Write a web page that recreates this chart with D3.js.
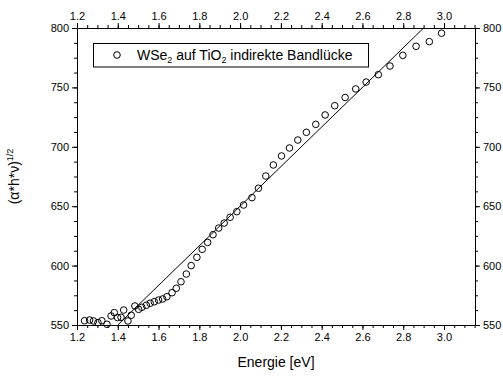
<!DOCTYPE html>
<html>
<head>
<meta charset="utf-8">
<script src="https://cdn.jsdelivr.net/npm/d3@7"></script>
<style>
  html, body { margin: 0; padding: 0; background: #fff; }
  svg { display: block; font-family: "Liberation Sans", Arial, sans-serif; }
</style>
</head>
<body>
<svg id="chart" width="503" height="378"></svg>
<script>
// Measured photon energy (eV) and (alpha*h*nu)^(1/2)
const energy = [
  1.237, 1.262, 1.281, 1.303, 1.322, 1.347, 1.367, 1.383, 1.399, 1.416,
  1.429, 1.450, 1.466, 1.484, 1.502, 1.518, 1.540, 1.559, 1.579, 1.600,
  1.620, 1.641, 1.666, 1.687, 1.710, 1.736, 1.760, 1.788, 1.814, 1.841,
  1.867, 1.895, 1.922, 1.951, 1.984, 2.017, 2.058, 2.090, 2.126, 2.163,
  2.203, 2.242, 2.283, 2.325, 2.371, 2.417, 2.464, 2.515, 2.567, 2.618,
  2.678, 2.735, 2.798, 2.863, 2.928, 2.988
];
const sqrtAbs = [
  553.6, 554.2, 553.4, 552.0, 553.6, 550.6, 557.6, 560.4, 556.2, 556.5,
  562.6, 553.4, 558.2, 566.0, 563.2, 564.9, 566.6, 568.3, 569.6, 571.0,
  571.9, 573.8, 577.2, 580.9, 586.4, 592.9, 600.0, 607.0, 613.7, 619.5,
  626.0, 631.6, 635.8, 640.7, 645.4, 651.0, 657.2, 665.1, 675.4, 684.7,
  692.3, 699.0, 705.7, 712.2, 718.9, 726.8, 734.6, 741.5, 748.7, 754.5,
  760.7, 768.0, 777.0, 784.6, 788.5, 795.6
];
// Linear fit of the absorption edge (end points)
const fitX = [1.40, 2.90];
const fitY = [550, 800];

const xTicks = [1.2, 1.4, 1.6, 1.8, 2.0, 2.2, 2.4, 2.6, 2.8, 3.0];
const yTicks = [550, 600, 650, 700, 750, 800];
const xMinor = d3.range(1.2, 3.151, 0.05).map(v => +v.toFixed(2));
const yMinor = d3.range(550, 800.01, 12.5);

const legendLabel = ["WSe", "2", " auf TiO", "2", " indirekte Bandlücke"];
const xTitle = "Energie [eV]";

const svg = d3.select("#chart");
const m = { left: 77, right: 475, top: 28, bottom: 325 };

const x = d3.scaleLinear().domain([1.2, 3.152]).range([m.left, m.right]);
const y = d3.scaleLinear().domain([550, 800]).range([m.bottom, m.top]);

const fmtX = d3.format(".1f");
const tickFont = 11;

function axisStyle(g) {
  g.select(".domain").attr("stroke", "#000").attr("stroke-width", 1);
  g.selectAll(".tick line").attr("stroke", "#000");
  g.selectAll(".tick text").attr("fill", "#000").style("font-size", tickFont + "px")
    .style("font-family", "'Liberation Sans', Arial, sans-serif");
}

// minor ticks (no labels)
function minor(axisFn, scale, vals, tr) {
  svg.append("g").attr("transform", tr)
    .call(axisFn(scale).tickValues(vals).tickSize(3).tickFormat(""))
    .call(g => { g.select(".domain").remove(); g.selectAll(".tick line").attr("stroke", "#000"); });
}
minor(d3.axisBottom, x, xMinor, `translate(0,${m.bottom})`);
minor(d3.axisTop, x, xMinor, `translate(0,${m.top})`);
minor(d3.axisLeft, y, yMinor, `translate(${m.left},0)`);
minor(d3.axisRight, y, yMinor, `translate(${m.right},0)`);

svg.append("g").attr("transform", `translate(0,${m.bottom})`)
  .call(d3.axisBottom(x).tickValues(xTicks).tickSize(5).tickPadding(3).tickFormat(fmtX).tickSizeOuter(0))
  .call(axisStyle);
svg.append("g").attr("transform", `translate(0,${m.top})`)
  .call(d3.axisTop(x).tickValues(xTicks).tickSize(5).tickPadding(3).tickFormat(fmtX).tickSizeOuter(0))
  .call(axisStyle);
svg.append("g").attr("transform", `translate(${m.left},0)`)
  .call(d3.axisLeft(y).tickValues(yTicks).tickSize(5).tickPadding(3).tickSizeOuter(0))
  .call(axisStyle);
svg.append("g").attr("transform", `translate(${m.right},0)`)
  .call(d3.axisRight(y).tickValues(yTicks).tickSize(5).tickPadding(3).tickSizeOuter(0))
  .call(axisStyle);

// fit line
svg.append("line")
  .attr("x1", x(fitX[0])).attr("y1", y(fitY[0]))
  .attr("x2", x(fitX[1])).attr("y2", y(fitY[1]))
  .attr("stroke", "#000").attr("stroke-width", 1);

// data points
svg.append("g").selectAll("circle")
  .data(energy.map((e, i) => [e, sqrtAbs[i]]))
  .join("circle")
  .attr("cx", d => x(d[0])).attr("cy", d => y(d[1]))
  .attr("r", 3.3)
  .attr("fill", "none").attr("stroke", "#000").attr("stroke-width", 1);

// legend
const lg = svg.append("g");
lg.append("rect").attr("x", 93.5).attr("y", 43.5).attr("width", 275).attr("height", 23.5)
  .attr("fill", "#fff").attr("stroke", "#000").attr("stroke-width", 1);
lg.append("circle").attr("cx", 117).attr("cy", 55).attr("r", 3.3)
  .attr("fill", "none").attr("stroke", "#000");
const lt = lg.append("text").attr("x", 137).attr("y", 60).style("font-size", "14px").attr("fill", "#000");
legendLabel.forEach((s, i) => {
  const sub = i === 1 || i === 3;
  lt.append("tspan").text(s)
    .attr("dy", sub ? 3 : (i > 1 ? -3 : 0))
    .style("font-size", sub ? "9px" : "14px");
});

// axis titles
svg.append("text").attr("x", (m.left + m.right) / 2).attr("y", 367)
  .attr("text-anchor", "middle").style("font-size", "14px").text(xTitle);

const yt = svg.append("text")
  .attr("transform", `translate(19,${(m.top + m.bottom) / 2}) rotate(-90)`)
  .attr("text-anchor", "middle").style("font-size", "14px");
yt.append("tspan").text("(\u03B1*h*\u03BD)");
yt.append("tspan").text("1/2").attr("dy", -6).style("font-size", "9px");
</script>
</body>
</html>
